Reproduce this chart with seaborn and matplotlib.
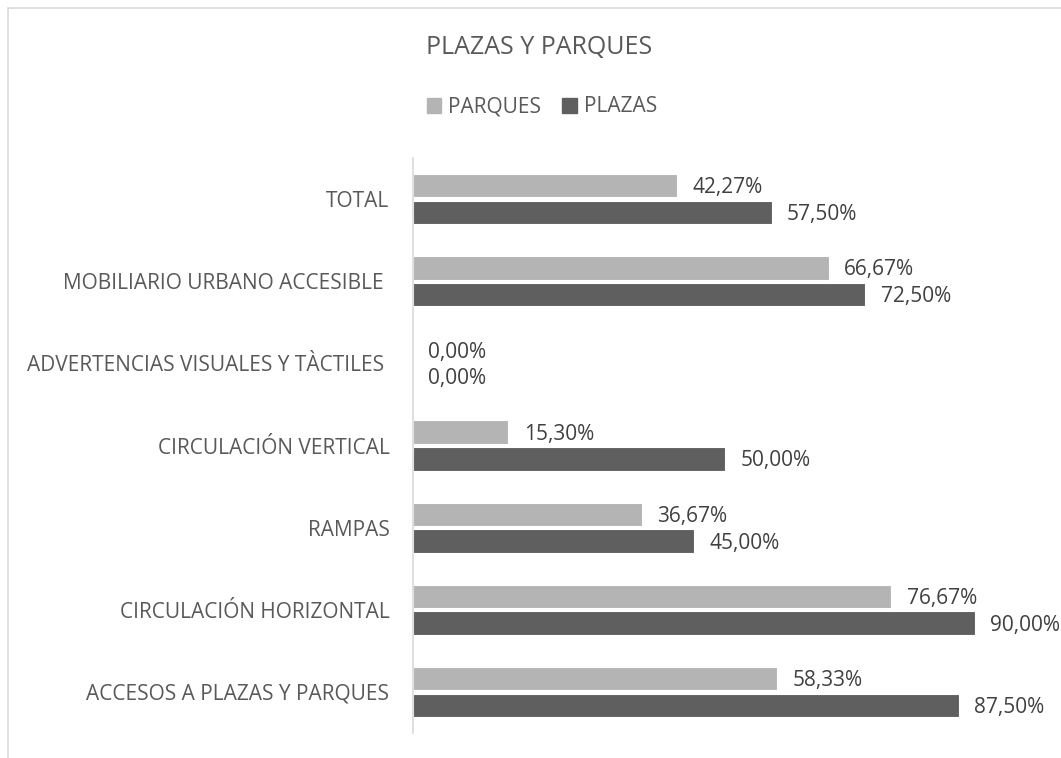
import pandas as pd
import matplotlib.pyplot as plt
import seaborn as sns
from matplotlib.patches import Rectangle

# datos
categorias = ['TOTAL', 'MOBILIARIO URBANO ACCESIBLE ', 'ADVERTENCIAS VISUALES Y TÀCTILES ',
              'CIRCULACIÓN VERTICAL', 'RAMPAS', 'CIRCULACIÓN HORIZONTAL', 'ACCESOS A PLAZAS Y PARQUES']
parques = [42.27, 66.67, 0.00, 15.30, 36.67, 76.67, 58.33]
plazas = [57.50, 72.50, 0.00, 50.00, 45.00, 90.00, 87.50]
series = ['PARQUES', 'PLAZAS']
colores = ['#b4b4b4', '#5f5f5f']

df = pd.DataFrame({
    'categoria': categorias * 2,
    'serie': ['PARQUES'] * len(categorias) + ['PLAZAS'] * len(categorias),
    'valor': parques + plazas,
})

sns.set_theme(style='white')
plt.rcParams['font.family'] = ['Open Sans', 'DejaVu Sans']
gris_txt = '#595959'
fs = 15

fig = plt.figure(figsize=(10.61, 7.58), dpi=100)
ax = fig.add_axes([413 / 1061, 1 - 733 / 758, 624 / 1061, 575 / 758])

sns.barplot(data=df, y='categoria', x='valor', hue='serie', hue_order=series,
            palette=colores, orient='h', width=0.65, gap=0.12, ax=ax,
            edgecolor='white', linewidth=0.8, legend=False)

ax.set_xlim(0, 100)
ax.set_ylim(6.5, -0.5)
ax.set_xlabel('')
ax.set_ylabel('')
ax.set_xticks([])
for s in ['top', 'right', 'bottom']:
    ax.spines[s].set_visible(False)
ax.spines['left'].set_color('#d9d9d9')
ax.spines['left'].set_linewidth(1.2)
ax.tick_params(axis='y', length=0, pad=17, labelsize=fs, labelcolor=gris_txt)

# etiquetas de datos
for cont in ax.containers:
    for bar in cont:
        v = bar.get_width()
        ax.annotate(f'{v:.2f}%'.replace('.', ','),
                    (v, bar.get_y() + bar.get_height() / 2),
                    xytext=(11, -1.5), textcoords='offset points',
                    ha='left', va='center', fontsize=fs, color='#404040')

# titulo y leyenda
fig.text(539 / 1061, 1 - 47 / 758, 'PLAZAS Y PARQUES', ha='center', va='center',
         fontsize=18, color=gris_txt)
handles = [Rectangle((0, 0), 1, 1, color=c) for c in colores]
fig.legend(handles, series, loc='center', bbox_to_anchor=(542 / 1061, 1 - 107 / 758),
           ncol=2, frameon=False, fontsize=fs, labelcolor=gris_txt,
           handlelength=0.7, handleheight=0.7, handletextpad=0.35, columnspacing=1.0)

# borde del area del grafico
fig.patches.append(Rectangle((8 / 1061, -0.1), 1.2, 1 - 8 / 758 + 0.1,
                             transform=fig.transFigure, fill=False,
                             edgecolor='#d9d9d9', linewidth=1.2))

fig.savefig('out.png', dpi=100)
